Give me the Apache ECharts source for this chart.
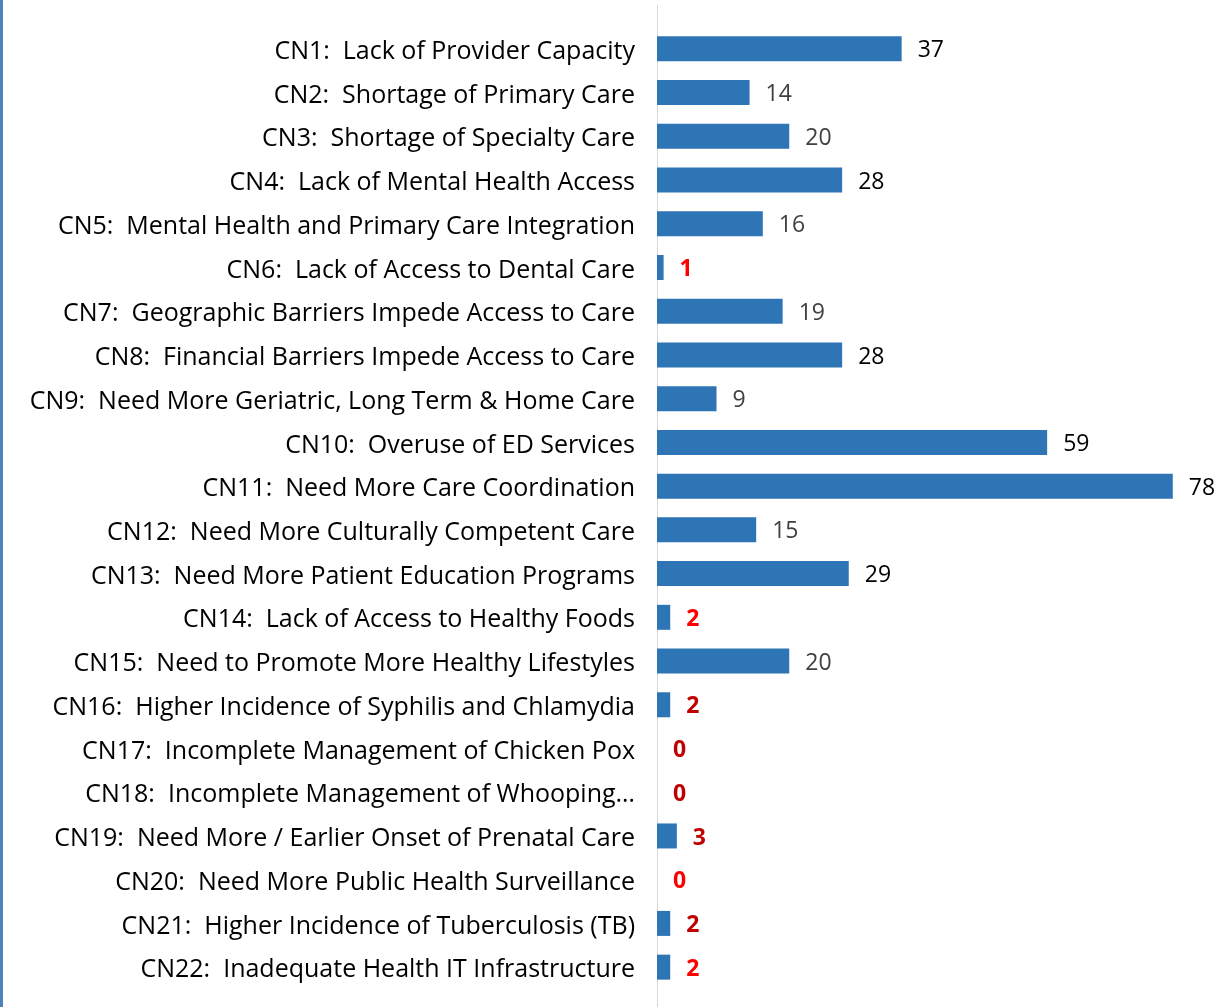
<!DOCTYPE html>
<html>
<head>
<meta charset="utf-8">
<script src="https://cdn.jsdelivr.net/npm/echarts@6/dist/echarts.min.js"></script>
<style>
  html, body { margin: 0; padding: 0; background: #fff; }
  #chart { width: 1220px; height: 1007px; box-sizing: border-box; border-left: 3px solid #4f81bd; }
</style>
</head>
<body>
<div id="chart"></div>
<script>
const categories = [
  'CN1:  Lack of Provider Capacity',
  'CN2:  Shortage of Primary Care',
  'CN3:  Shortage of Specialty Care',
  'CN4:  Lack of Mental Health Access',
  'CN5:  Mental Health and Primary Care Integration',
  'CN6:  Lack of Access to Dental Care',
  'CN7:  Geographic Barriers Impede Access to Care',
  'CN8:  Financial Barriers Impede Access to Care',
  'CN9:  Need More Geriatric, Long Term & Home Care',
  'CN10:  Overuse of ED Services',
  'CN11:  Need More Care Coordination',
  'CN12:  Need More Culturally Competent Care',
  'CN13:  Need More Patient Education Programs',
  'CN14:  Lack of Access to Healthy Foods',
  'CN15:  Need to Promote More Healthy Lifestyles',
  'CN16:  Higher Incidence of Syphilis and Chlamydia',
  'CN17:  Incomplete Management of Chicken Pox',
  'CN18:  Incomplete Management of Whooping…',
  'CN19:  Need More / Earlier Onset of Prenatal Care',
  'CN20:  Need More Public Health Surveillance',
  'CN21:  Higher Incidence of Tuberculosis (TB)',
  'CN22:  Inadequate Health IT Infrastructure'
]

const counts = [37, 14, 20, 28, 16, 1, 19, 28, 9, 59, 78, 15, 29, 2, 20, 2, 0, 0, 3, 0, 2, 2]

// label tone per bar, as coloured in the source
const labelTone = ['dark', 'muted', 'muted', 'dark', 'muted', 'red', 'muted', 'dark', 'muted', 'dark', 'dark',
  'muted', 'dark', 'red', 'muted', 'deep', 'deep', 'deep', 'deep', 'red', 'deep', 'red']

const toneStyle = {
  dark: { color: '#000000', fontWeight: 'normal' },
  muted: { color: '#404040', fontWeight: 'normal' },
  red: { color: '#ff0000', fontWeight: 'bold' },
  deep: { color: '#c00000', fontWeight: 'bold' }
}

const FONT = '"Open Sans", "Noto Sans", sans-serif'

const chart = echarts.init(document.getElementById('chart'))

const option = {
  animation: false,
  grid: { left: 654, right: 34, top: 27, bottom: 18 },
  xAxis: {
    type: 'value',
    min: 0,
    max: 80,
    show: false
  },
  yAxis: {
    type: 'category',
    inverse: true,
    data: categories,
    axisLine: { show: false },
    axisTick: { show: false },
    axisLabel: {
      color: '#000',
      fontFamily: FONT,
      fontSize: 25,
      margin: 22,
      // nudge text a little below the bar centre, like the source
      verticalAlign: 'top',
      lineHeight: 6
    }
  },
  series: [
    {
      type: 'bar',
      barWidth: 25,
      data: counts.map((v, i) => ({
        value: v,
        label: {
          color: toneStyle[labelTone[i]].color,
          fontWeight: toneStyle[labelTone[i]].fontWeight
        }
      })),
      itemStyle: { color: '#2e75b6' },
      label: {
        show: true,
        position: 'right',
        distance: 16,
        fontFamily: FONT,
        fontSize: 23,
        verticalAlign: 'top',
        lineHeight: 4
      }
    }
  ]
}

chart.setOption(option)

// vertical axis line runs the full height of the plot frame
const x0 = Math.round(chart.convertToPixel({ xAxisIndex: 0 }, 0)) + 0.5
chart.setOption({
  graphic: [{
    type: 'line',
    shape: { x1: x0, y1: 5, x2: x0, y2: 1007 },
    style: { stroke: '#d9d9d9', lineWidth: 1 },
    z: 0
  }]
})
</script>
</body>
</html>
